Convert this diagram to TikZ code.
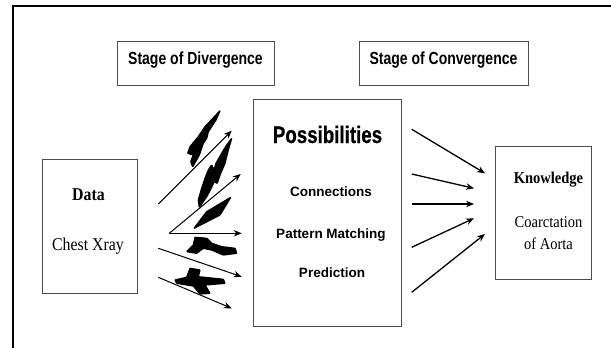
\documentclass[tikz,border=0pt]{standalone}
\usepackage{fontspec}
\setmainfont{Liberation Serif}[FakeStretch=0.88]
\setsansfont{Liberation Sans}
\newfontfamily\narrowsf{Liberation Sans}[FakeStretch=0.8]
\newfontfamily\titlesf{Liberation Sans}[FakeStretch=0.78,BoldFeatures={FakeBold=0.6}]
\usetikzlibrary{arrows.meta,positioning,shadows}

\begin{document}
\begin{tikzpicture}[x=1pt,y=-1pt,>={Stealth[length=8pt,width=6.5pt]},
  box/.style={rectangle,draw=gray!60!black,line width=1pt,fill=white,inner sep=0pt,
    drop shadow={shadow xshift=0pt,shadow yshift=-1.3pt,fill=gray!70!black,opacity=1}},
  stage/.style={anchor=base,inner sep=0pt,font=\narrowsf\bfseries\fontsize{17.5}{20}\selectfont},
  title/.style={anchor=base,inner sep=0pt,font=\titlesf\bfseries\fontsize{24}{28}\selectfont},
  item/.style={anchor=base,inner sep=0pt,font=\sffamily\bfseries\fontsize{13.5}{16}\selectfont},
  big/.style={anchor=base,inner sep=0pt,font=\fontsize{18}{21}\selectfont},
  small/.style={anchor=base,inner sep=0pt,font=\fontsize{16.5}{19}\selectfont},
  thin arr/.style={->,line width=1pt},
  arr/.style={->,line width=1.3pt},
  blot/.style={fill=black,draw=black,line width=1.3pt,line join=miter,rounded corners=0.6pt}]
  \useasboundingbox (0,0) rectangle (611,348);
  \draw[line width=2pt] (13,348) -- (13,6) -- (611,6);

  % boxes
  \node[box,minimum width=157pt,minimum height=44pt] (stgdiv) at (195.5,63) {};
  \node[box,minimum width=169pt,minimum height=44pt,right=84pt of stgdiv] (stgconv) {};
  \node[box,minimum width=148pt,minimum height=227pt] (poss) at (327,212.5) {};
  \node[box,minimum width=96pt,minimum height=133pt,right=93pt of poss] (know) {};
  \node[box,minimum width=95pt,minimum height=134pt] (data) at (89.5,226) {};

  % texts
  \node[stage] (stgdivtxt) at (195.5,64.3) {Stage of Divergence};
  \node[stage] (stgconvtxt) at (443.5,64.3) {Stage of Convergence};
  \node[title] (posstxt) at (327.5,143) {Possibilities};
  \node[item] (conn) at (331,196) {Connections};
  \node[item] (patt) at (331,238) {Pattern Matching};
  \node[item] (pred) at (332,277) {Prediction};
  \node[big] (datatxt) at (88.5,200) {\bfseries Data};
  \node[big] (xray) at (88,250) {Chest Xray};
  \node[small] (knowtxt) at (548.5,183) {\bfseries Knowledge};
  \node[small] (coarc) at (548.5,227) {Coarctation};
  \node[small] (aorta) at (548.5,249) {of Aorta};

  % divergence arrows
  \coordinate (l1s) at (158.3,204);   \coordinate (l1e) at (231.7,130.7);
  \coordinate (l2s) at (169.3,233.3); \coordinate (l2e) at (240.7,174);
  \coordinate (l3e) at (241.7,233.3);
  \coordinate (l4s) at (158.3,248.3); \coordinate (l4e) at (241.7,276.7);
  \coordinate (l5s) at (158.3,277.3); \coordinate (l5e) at (231.7,308.3);
  \path[thin arr] (l1s) edge (l1e)
    (l2s) edge (l2e)
    (l2s) edge (l3e)
    (l4s) edge (l4e)
    (l5s) edge (l5e);

  % convergence arrows
  \coordinate (r1s) at (411.7,129.3); \coordinate (r1e) at (485,173.3);
  \coordinate (r2s) at (411.7,174);   \coordinate (r2e) at (474,188.3);
  \coordinate (r3s) at (411.7,204);   \coordinate (r3e) at (474,204);
  \coordinate (r4s) at (411.7,247.3); \coordinate (r4e) at (474,218.3);
  \coordinate (r5s) at (411.7,292.3); \coordinate (r5e) at (485,234);
  \path[arr] (r1s) edge (r1e)
    (r2s) edge (r2e)
    (r3s) edge (r3e)
    (r4s) edge (r4e)
    (r5s) edge (r5e);

  % brush strokes
  \filldraw[blot] (220,110.7) -- (216,120) -- (208.3,131.7) -- (206.7,138.3) -- (203.3,143.3)
    -- (199.3,155) -- (192.7,166.7) -- (190.7,161.7) -- (193.3,155) -- (187.7,153.3)
    -- (190,146.7) -- (198.3,136.7) -- (205,126.7) -- cycle;
  \filldraw[blot] (231.7,138.3) -- (228.3,150) -- (225,163.3) -- (220,175) -- (217.3,183.3)
    -- (214,181.7) -- (211.7,187.3) -- (206.7,196.7) -- (199.3,207.3) -- (198.3,200)
    -- (201.7,188.3) -- (205,178.3) -- (208.3,170) -- (211.7,165) -- (214,170)
    -- (216,163.3) -- (221.7,153.3) -- (226.7,145) -- cycle;
  \filldraw[blot] (230.7,197.3) -- (206.7,211.7) -- (194,228.3) -- (220,215) -- cycle;
  \filldraw[blot] (195,237.3) -- (206.7,238.3) -- (211.7,243.3) -- (221.7,246.7) -- (235,248.3)
    -- (236.7,253.3) -- (223.3,255) -- (211.7,250) -- (203.3,248.3) -- (196.7,253.3)
    -- (186.7,251.7) -- (193.3,245) -- cycle;
  \filldraw[blot] (190,268.3) -- (200,270) -- (198.3,276.7) -- (223.3,279.3) -- (225,283.3)
    -- (205,285) -- (210,293.3) -- (200,294) -- (193.3,286) -- (176.7,283.3)
    -- (175,280) -- (186.7,277.3) -- cycle;
\end{tikzpicture}
\end{document}
